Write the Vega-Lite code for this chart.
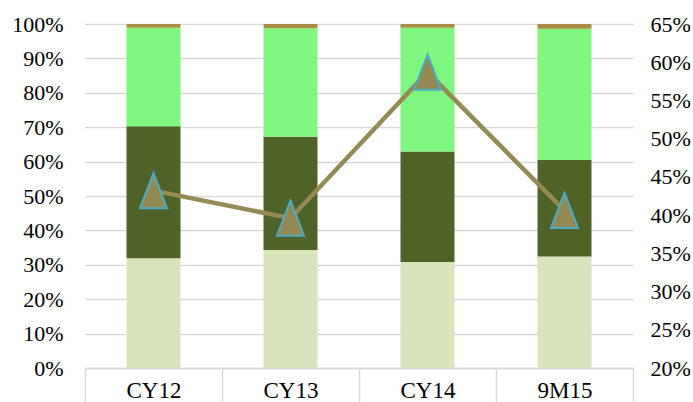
{
  "$schema": "https://vega.github.io/schema/vega-lite/v6.json",
  "width": 548,
  "height": 344,
  "autosize": {"type": "none"},
  "padding": {"left": 85, "top": 24, "right": 60, "bottom": 34},
  "background": "white",
  "config": {
    "view": {"stroke": null},
    "font": "Liberation Serif",
    "axis": {"labelFont": "Liberation Serif", "labelColor": "#000000", "titleFont": "Liberation Serif"}
  },
  "datasets": {
    "mix": [
      {"period": "CY12", "part": "A", "share": 0.319},
      {"period": "CY12", "part": "B", "share": 0.384},
      {"period": "CY12", "part": "C", "share": 0.286},
      {"period": "CY12", "part": "D", "share": 0.011},
      {"period": "CY13", "part": "A", "share": 0.343},
      {"period": "CY13", "part": "B", "share": 0.329},
      {"period": "CY13", "part": "C", "share": 0.316},
      {"period": "CY13", "part": "D", "share": 0.012},
      {"period": "CY14", "part": "A", "share": 0.308},
      {"period": "CY14", "part": "B", "share": 0.321},
      {"period": "CY14", "part": "C", "share": 0.360},
      {"period": "CY14", "part": "D", "share": 0.011},
      {"period": "9M15", "part": "A", "share": 0.324},
      {"period": "9M15", "part": "B", "share": 0.281},
      {"period": "9M15", "part": "C", "share": 0.381},
      {"period": "9M15", "part": "D", "share": 0.014}
    ],
    "ratio": [
      {"period": "CY12", "rate": 0.432},
      {"period": "CY13", "rate": 0.396},
      {"period": "CY14", "rate": 0.587},
      {"period": "9M15", "rate": 0.406}
    ]
  },
  "layer": [
    {
      "data": {"name": "mix"},
      "mark": {"type": "bar", "width": {"band": 0.394}},
      "encoding": {
        "x": {
          "field": "period",
          "type": "nominal",
          "sort": ["CY12", "CY13", "CY14", "9M15"],
          "scale": {"paddingInner": 0, "paddingOuter": 0},
          "axis": {
            "title": null,
            "labelAngle": 0,
            "labelFontSize": 23,
            "labelPadding": -29,
            "labelBaseline": "top",
            "tickBand": "extent",
            "tickSize": 40,
            "tickColor": "#D9D9D9",
            "tickWidth": 1.5,
            "domainColor": "#D9D9D9",
            "domainWidth": 1.5
          }
        },
        "y": {
          "field": "share",
          "type": "quantitative",
          "stack": "zero",
          "scale": {"domain": [0, 1], "nice": false, "zero": true},
          "axis": {
            "title": null,
            "orient": "left",
            "format": ".0%",
            "values": [0, 0.1, 0.2, 0.3, 0.4, 0.5, 0.6, 0.7, 0.8, 0.9, 1.0],
            "labelFontSize": 22,
            "labelPadding": 22,
            "ticks": false,
            "domain": false,
            "grid": true,
            "gridColor": "#D9D9D9",
            "gridWidth": 1.5
          }
        },
        "color": {
          "field": "part",
          "type": "nominal",
          "scale": {"domain": ["A", "B", "C", "D"], "range": ["#D8E4BC", "#4F6228", "#7FF67F", "#A88E44"]},
          "legend": null
        },
        "order": {"field": "part", "sort": "ascending"}
      }
    },
    {
      "data": {"name": "ratio"},
      "encoding": {
        "x": {"field": "period", "type": "nominal", "sort": ["CY12", "CY13", "CY14", "9M15"]},
        "y": {
          "field": "rate",
          "type": "quantitative",
          "scale": {"domain": [0.2, 0.65], "nice": false, "zero": false},
          "axis": {
            "title": null,
            "orient": "right",
            "format": ".0%",
            "values": [0.2, 0.25, 0.3, 0.35, 0.4, 0.45, 0.5, 0.55, 0.6, 0.65],
            "labelFontSize": 22,
            "labelPadding": 17,
            "ticks": false,
            "domain": false,
            "grid": false
          }
        }
      },
      "layer": [
        {"mark": {"type": "line", "color": "#948A54", "strokeWidth": 4.5}},
        {
          "mark": {
            "type": "point",
            "shape": "M0,-1.3L1,1.3L-1,1.3Z",
            "size": 729,
            "filled": true,
            "opacity": 1,
            "fill": "#938953",
            "stroke": "#4BACC6",
            "strokeWidth": 2
          }
        }
      ]
    }
  ],
  "resolve": {"scale": {"y": "independent"}}
}
